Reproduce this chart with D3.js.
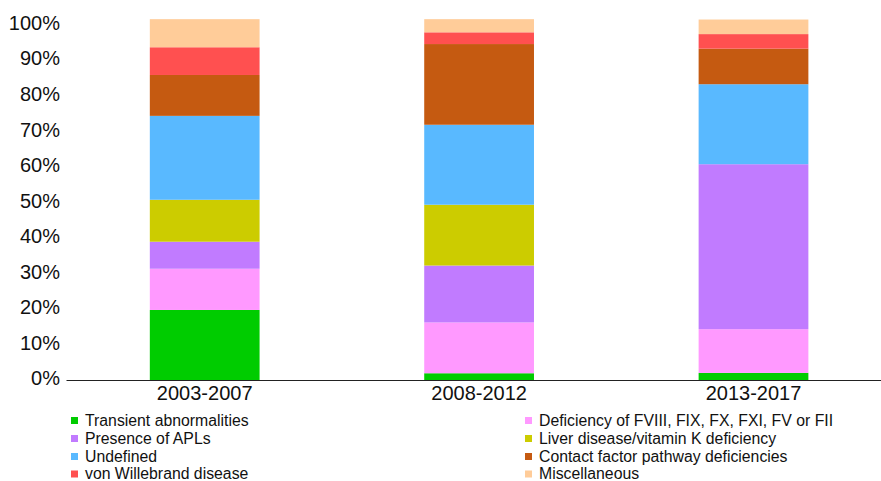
<!DOCTYPE html>
<html>
<head>
<meta charset="utf-8">
<script src="https://cdn.jsdelivr.net/npm/d3@7"></script>
<style>
  html, body { margin: 0; padding: 0; background: #fff; }
  svg { display: block; font-family: "Liberation Sans", Arial, Helvetica, sans-serif; }
</style>
</head>
<body>
<svg id="chart" width="881" height="481"></svg>
<script>
// ---- data ----
const categories = ["2003-2007", "2008-2012", "2013-2017"];
const seriesNames = [
  "Transient abnormalities",
  "Deficiency of FVIII, FIX, FX, FXI, FV or FII",
  "Presence of APLs",
  "Liver disease/vitamin K deficiency",
  "Undefined",
  "Contact factor pathway deficiencies",
  "von Willebrand disease",
  "Miscellaneous"
];
const transient    = [19.7, 1.9, 2.0];
const deficiency   = [11.6, 14.3, 12.3];
const apls         = [7.6, 16.0, 46.4];
const liver        = [11.8, 17.1, 0];
const undefinedCat = [23.6, 22.5, 22.5];
const contact      = [11.5, 22.7, 10.0];
const vonWillebrand= [7.8, 3.3, 4.1];
const misc         = [7.9, 3.7, 4.1];
const seriesValues = [transient, deficiency, apls, liver, undefinedCat, contact, vonWillebrand, misc];
const seriesColors = ["#00cc00", "#ff99ff", "#c17bff", "#cccc00", "#59b9ff", "#c55a11", "#ff5050", "#ffcc99"];
const yTicks = [0, 10, 20, 30, 40, 50, 60, 70, 80, 90, 100];

// ---- build table ----
const table = categories.map((c, i) => {
  const row = { cat: c };
  seriesNames.forEach((s, j) => row[s] = seriesValues[j][i]);
  return row;
});
const stack = d3.stack().keys(seriesNames)(table);

const svg = d3.select("#chart");

const x = d3.scaleBand().domain(categories).range([67.5, 890.7]).paddingInner(0.6).paddingOuter(0.3);
const y = d3.scaleLinear().domain([0, 100]).range([380, 24.5]);
const color = d3.scaleOrdinal().domain(seriesNames).range(seriesColors);

// bars
svg.append("g").selectAll("g").data(stack).join("g")
  .attr("fill", d => color(d.key))
  .selectAll("rect").data(d => d).join("rect")
  .attr("x", d => x(d.data.cat))
  .attr("width", x.bandwidth())
  .attr("y", d => y(d[1]))
  .attr("height", d => y(d[0]) - y(d[1]));

// y axis labels (no line / ticks)
const yAxis = svg.append("g").attr("transform", "translate(60,0)")
  .call(d3.axisLeft(y).tickValues(yTicks).tickFormat(d => d + "%").tickSize(0).tickPadding(0));
yAxis.select(".domain").remove();
yAxis.selectAll("text")
  .attr("font-size", 20)
  .attr("font-family", "Liberation Sans, Arial, sans-serif")
  .attr("fill", "#111")
  .attr("dy", "0.32em")
  .attr("transform", "translate(0,-1.5)");

// x axis
const xAxis = svg.append("g").attr("transform", "translate(0,380)")
  .call(d3.axisBottom(x).tickSize(0).tickPadding(6));
xAxis.select(".domain").remove();
svg.append("line").attr("x1", 66.5).attr("x2", 881).attr("y1", 380.5).attr("y2", 380.5)
  .attr("stroke", "#222").attr("stroke-width", 1);
xAxis.selectAll("text")
  .attr("font-size", 20)
  .attr("font-family", "Liberation Sans, Arial, sans-serif")
  .attr("fill", "#111")
  .attr("dy", "0.71em");

// legend
const legendCols = [71, 525];
const legendRows = [420, 438, 456, 473.5];
const leg = svg.append("g").selectAll("g").data(seriesNames).join("g")
  .attr("transform", (d, i) => `translate(${legendCols[i % 2]},${legendRows[Math.floor(i / 2)]})`);
leg.append("rect").attr("x", 0).attr("y", -3).attr("width", 7).attr("height", 7).attr("fill", d => color(d));
leg.append("text").attr("x", 14).attr("y", 0).attr("dy", "0.35em")
  .attr("font-size", 15.8).attr("fill", "#111").text(d => d);
</script>
</body>
</html>
